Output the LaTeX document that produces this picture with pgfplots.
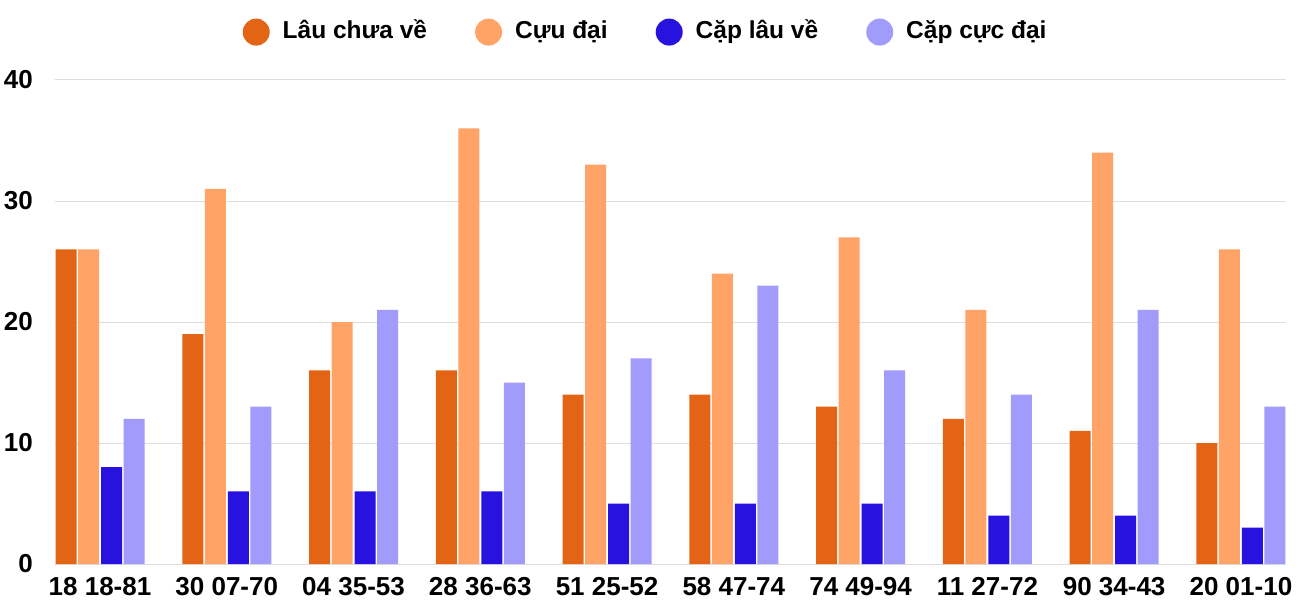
\documentclass[border=0pt]{standalone}
\usepackage{pgfplots}
\pgfplotsset{compat=1.18}
\usepackage{fontspec}
\setmainfont{Liberation Sans}
\definecolor{c1}{HTML}{E36414}
\definecolor{c2}{HTML}{FFA366}
\definecolor{c3}{HTML}{2812E0}
\definecolor{c4}{HTML}{A19BFC}
\begin{document}
\begin{tikzpicture}
\begin{axis}[
  scale only axis, width=1231pt, height=484pt,
  xmin=-0.355, xmax=9.355, ymin=0, ymax=40,
  xtick={0,...,9},
  xticklabels={18 18-81,30 07-70,04 35-53,28 36-63,51 25-52,58 47-74,74 49-94,11 27-72,90 34-43,20 01-10},
  ytick={0,10,20,30,40},
  ymajorgrids, grid style={draw=black!13, line width=1pt},
  axis line style={draw=none},
  major tick length=0pt,
  /pgf/number format/assume math mode=true,
  tick label style={font=\fontsize{26}{30}\selectfont\bfseries},
  yticklabel style={anchor=east, inner sep=0pt, xshift=-22pt},
  xticklabel style={anchor=north, inner sep=0pt, yshift=-13pt},
  legend columns=4,
  legend image code/.code={\fill (13.5pt,-2pt) circle (13.5pt);},
  legend style={draw=none, fill=none, at={(axis description cs:0.479,1.099)}, anchor=center,
    font=\fontsize{24.5}{30}\selectfont\bfseries,
    nodes={inner sep=0pt},
    /tikz/every odd column/.append style={column sep=13pt},
    /tikz/every even column/.append style={column sep=48pt}},
]
\addplot[ybar, bar width=21pt, bar shift=-34pt, fill=c1, draw=none] coordinates {(0,26) (1,19) (2,16) (3,16) (4,14) (5,14) (6,13) (7,12) (8,11) (9,10)};
\addlegendentry{Lâu chưa về}
\addplot[ybar, bar width=21pt, bar shift=-11.5pt, fill=c2, draw=none] coordinates {(0,26) (1,31) (2,20) (3,36) (4,33) (5,24) (6,27) (7,21) (8,34) (9,26)};
\addlegendentry{Cựu đại}
\addplot[ybar, bar width=21pt, bar shift=11.5pt, fill=c3, draw=none] coordinates {(0,8) (1,6) (2,6) (3,6) (4,5) (5,5) (6,5) (7,4) (8,4) (9,3)};
\addlegendentry{Cặp lâu về}
\addplot[ybar, bar width=21pt, bar shift=34pt, fill=c4, draw=none] coordinates {(0,12) (1,13) (2,21) (3,15) (4,17) (5,23) (6,16) (7,14) (8,21) (9,13)};
\addlegendentry{Cặp cực đại}
\end{axis}
\path (-55pt,-36pt) rectangle (1245pt,564pt);
\end{tikzpicture}
\end{document}
